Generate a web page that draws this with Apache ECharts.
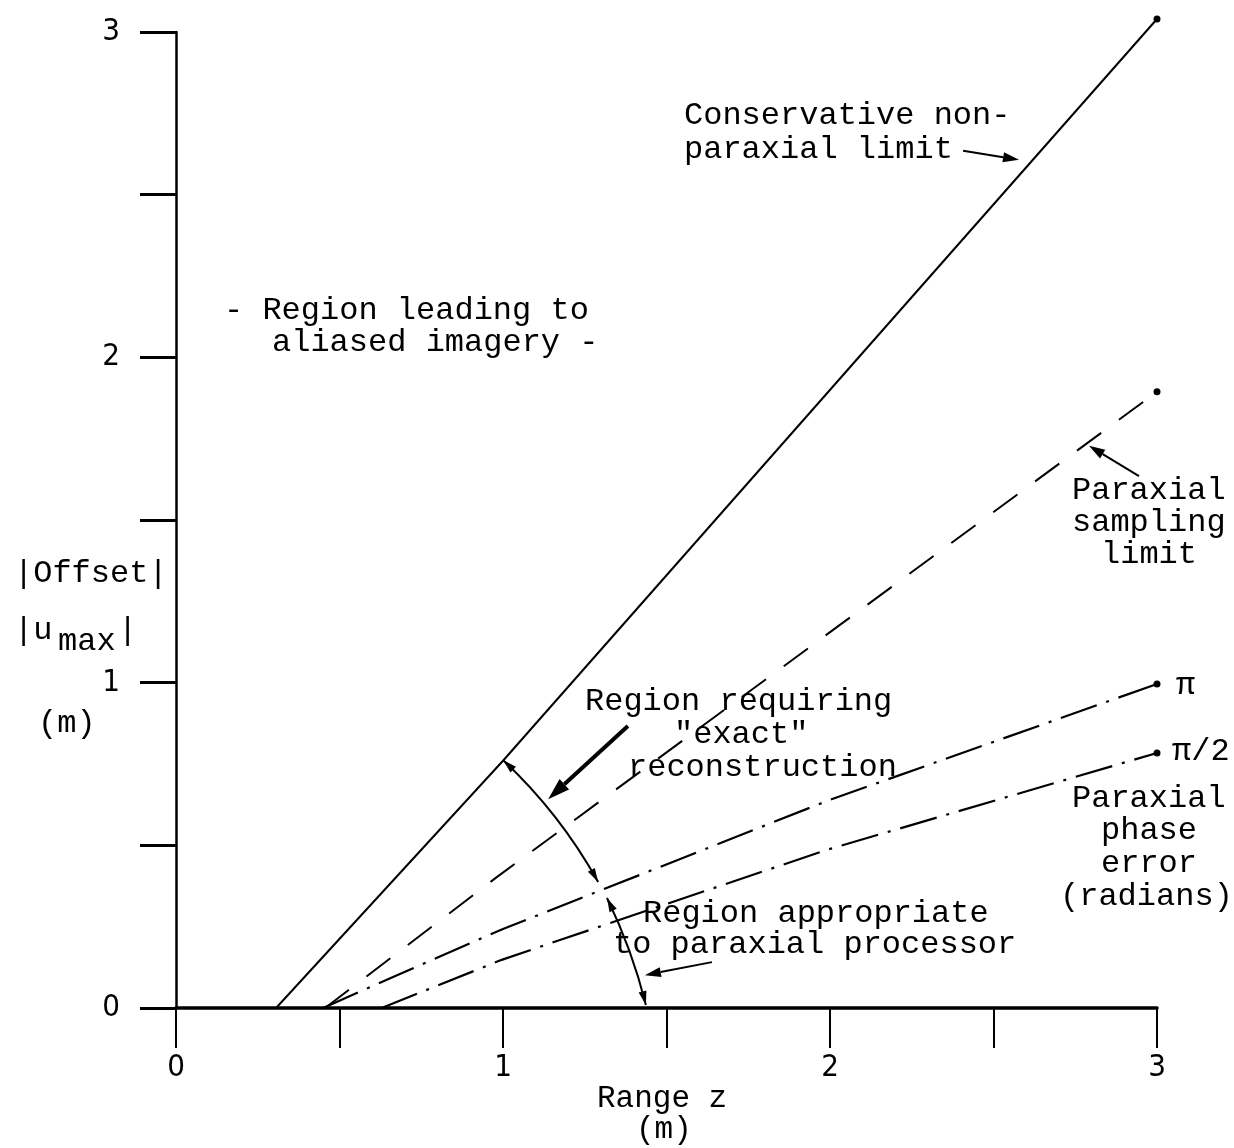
<!DOCTYPE html>
<html><head><meta charset="utf-8">
<script src="https://cdn.jsdelivr.net/npm/echarts@6/dist/echarts.min.js"></script>
<style>html,body{margin:0;padding:0;background:#fff}#c{width:1234px;height:1148px}</style>
</head><body><div id="c"></div>
<script>
// ---- data (axis units: range z in m, |offset| in m) ----
const xTicks = [0, 0.5, 1, 1.5, 2, 2.5, 3];
const yTicks = [0, 0.5, 1, 1.5, 2, 2.5, 3];
const conservativeLimit = [[0.306, 0], [1.0, 0.76], [3.0, 3.04]];
const paraxialSampling = [[0.456, 0], [0.982, 0.403], [3.0, 1.894]];
const phasePi = [[0.45, 0], [0.676, 0.101], [1.0, 0.243], [2.0, 0.64], [3.0, 0.996]];
const phaseHalfPi = [[0.629, 0], [0.996, 0.148], [1.174, 0.209], [1.99, 0.486], [3.0, 0.784]];
// annotation arrows: [x1, y1, x2, y2] (tip at x2,y2)
const arrowsThin = [[2.407, 2.635, 2.578, 2.607], [2.945, 1.635, 2.792, 1.728], [1.639, 0.141, 1.434, 0.101]];
const arrowsThick = [[1.382, 0.867, 1.138, 0.642]];
// double-headed arcs: [xStart, yStart, xMid, yMid, xEnd, yEnd]
const arcs = [[1.0, 0.762, 1.160, 0.586, 1.291, 0.387], [1.318, 0.338, 1.386, 0.177, 1.437, 0.009]];

const MONO = '"Liberation Mono", "Courier New", monospace';
const NUM = '"Liberation Sans Narrow", "DejaVu Sans Condensed", "Liberation Sans", sans-serif';

function withEndDot(pts) {
  return pts.map((p, i) => i === pts.length - 1 ? {value: p, symbol: 'circle', symbolSize: 7} : {value: p});
}
function head(tip, from, L, hw) {
  const a = Math.atan2(tip[1] - from[1], tip[0] - from[0]);
  const c = Math.cos(a), s = Math.sin(a);
  const bx = tip[0] - L * c, by = tip[1] - L * s;
  return {base: [bx, by], pts: [[tip[0], tip[1]], [bx - hw * s, by + hw * c], [bx + hw * s, by - hw * c]]};
}
function arrowRender(L, hw, lw) {
  return function (params, api) {
    const p1 = api.coord([api.value(0), api.value(1)]);
    const p2 = api.coord([api.value(2), api.value(3)]);
    const h = head(p2, p1, L, hw);
    return {type: 'group', children: [
      {type: 'line', shape: {x1: p1[0], y1: p1[1], x2: h.base[0], y2: h.base[1]}, style: {stroke: '#000', lineWidth: lw}},
      {type: 'polygon', shape: {points: h.pts}, style: {fill: '#000'}}
    ]};
  };
}
function arcRender(params, api) {
  const s = api.coord([api.value(0), api.value(1)]);
  const m = api.coord([api.value(2), api.value(3)]);
  const e = api.coord([api.value(4), api.value(5)]);
  const cp = [2 * m[0] - (s[0] + e[0]) / 2, 2 * m[1] - (s[1] + e[1]) / 2];
  const h1 = head(s, cp, 14, 4);
  const h2 = head(e, cp, 14, 4);
  return {type: 'group', children: [
    {type: 'bezierCurve', shape: {x1: s[0], y1: s[1], x2: e[0], y2: e[1], cpx1: cp[0], cpy1: cp[1]}, style: {stroke: '#000', fill: null, lineWidth: 2}},
    {type: 'polygon', shape: {points: h1.pts}, style: {fill: '#000'}},
    {type: 'polygon', shape: {points: h2.pts}, style: {fill: '#000'}}
  ]};
}
function txt(x, y, t, opt) {
  return Object.assign({type: 'text', left: x, top: y, style: Object.assign({text: t, font: '32px ' + MONO, fill: '#000'}, opt || {})});
}

const chart = echarts.init(document.getElementById('c'), null, {renderer: 'canvas'});
chart.setOption({
  backgroundColor: '#fff',
  animation: false,
  grid: {left: 176, right: 77, top: 32, bottom: 140, containLabel: false},
  xAxis: {
    type: 'value', min: xTicks[0], max: xTicks[xTicks.length - 1], interval: 0.5,
    axisLine: {show: true, lineStyle: {color: '#000', width: 3.5}},
    axisTick: {show: true, length: 40, lineStyle: {color: '#000', width: 2}},
    axisLabel: {margin: 44, color: '#000', fontSize: 31, fontFamily: NUM,
      formatter: v => Number.isInteger(v) ? String(v) : ''},
    splitLine: {show: false}
  },
  yAxis: {
    type: 'value', min: yTicks[0], max: yTicks[yTicks.length - 1], interval: 0.5,
    axisLine: {show: true, lineStyle: {color: '#000', width: 2.5}},
    axisTick: {show: true, length: 36, lineStyle: {color: '#000', width: 3}},
    axisLabel: {margin: 56, color: '#000', fontSize: 31, fontFamily: NUM,
      formatter: v => Number.isInteger(v) ? String(v) : ''},
    splitLine: {show: false}
  },
  series: [
    {type: 'line', data: withEndDot(conservativeLimit), symbol: 'none', showSymbol: true, clip: false,
      lineStyle: {color: '#000', width: 2, type: 'solid'}, itemStyle: {color: '#000'}},
    {type: 'line', data: withEndDot(paraxialSampling), symbol: 'none', showSymbol: true, clip: false,
      lineStyle: {color: '#000', width: 2, type: [30, 22]}, itemStyle: {color: '#000'}},
    {type: 'line', data: withEndDot(phasePi), symbol: 'none', showSymbol: true, clip: false,
      lineStyle: {color: '#000', width: 2.2, type: [38, 10, 3, 10]}, itemStyle: {color: '#000'}},
    {type: 'line', data: withEndDot(phaseHalfPi), symbol: 'none', showSymbol: true, clip: false,
      lineStyle: {color: '#000', width: 2.2, type: [38, 10, 3, 10]}, itemStyle: {color: '#000'}},
    {type: 'custom', renderItem: arrowRender(16, 5, 2), data: arrowsThin, clip: false, z: 5},
    {type: 'custom', renderItem: arrowRender(22, 7, 4), data: arrowsThick, clip: false, z: 5},
    {type: 'custom', renderItem: arcRender, data: arcs, clip: false, z: 5}
  ],
  graphic: [
    txt(684, 100, 'Conservative non-'),
    txt(684, 134, 'paraxial limit'),
    txt(224, 295, '- Region leading to'),
    txt(272, 327, 'aliased imagery -'),
    txt(1072, 475, 'Paraxial'),
    txt(1072, 507, 'sampling'),
    txt(1101, 539, 'limit'),
    txt(1176, 670, 'π'),
    txt(1172, 736, 'π/2'),
    txt(1072, 783, 'Paraxial'),
    txt(1101, 815, 'phase'),
    txt(1101, 848, 'error'),
    txt(1060, 881, '(radians)'),
    txt(585, 686, 'Region requiring'),
    txt(674, 719, '"exact"'),
    txt(628, 752, 'reconstruction'),
    txt(643, 898, 'Region appropriate'),
    txt(613, 929, 'to paraxial processor'),
    txt(14, 558, '|Offset|'),
    txt(14, 615, '|u'),
    txt(58, 626, 'max'),
    txt(118, 615, '|'),
    txt(38, 708, '(m)'),
    txt(597, 1083, 'Range z', {font: '31px ' + MONO}),
    txt(636, 1114, '(m)', {font: '31px ' + MONO})
  ]
});
</script></body></html>
